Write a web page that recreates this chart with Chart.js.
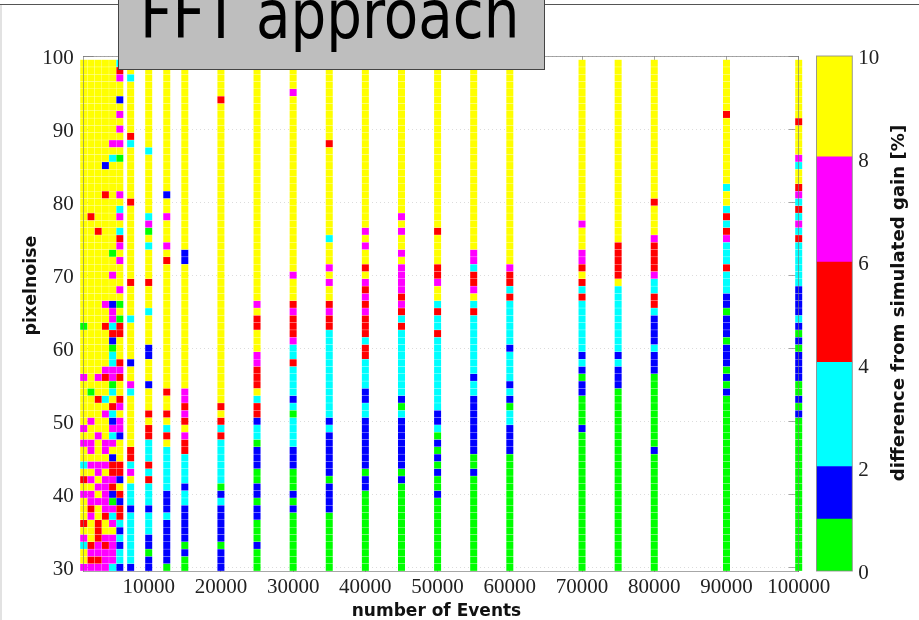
<!DOCTYPE html>
<html>
<head>
<meta charset="utf-8">
<script src="https://cdn.jsdelivr.net/npm/chart.js@4"></script>
<style>
html,body{margin:0;padding:0;background:#fff;width:919px;height:620px;overflow:hidden}
canvas{position:absolute;left:0;top:0}
#rule{position:absolute;left:0;top:4px;width:919px;height:1.4px;background:#555}
#edge{position:absolute;left:0;top:5px;width:1.5px;height:615px;background:#e2e2e2}
#titleBox{position:absolute;left:118px;top:-20px;width:425px;height:87.5px;background:#bebebe;border:1px solid #444;border-right-width:1.5px;border-bottom-width:1.5px;overflow:hidden}
#titleText{position:absolute;left:21px;top:1px;font:62.6px/70px "DejaVu Sans Condensed","DejaVu Sans",sans-serif;font-stretch:condensed;color:#000;white-space:nowrap;transform-origin:0 56.7px;transform:scaleY(1.07)}
</style>
</head>
<body>
<div id="rule"></div><div id="edge"></div>
<canvas id="heat" width="919" height="620"></canvas>
<canvas id="bar" width="919" height="620"></canvas>
<div id="titleBox"><span id="titleText">FFT approach</span></div>
<script>
// colour classes of difference from simulated gain [%]
const G=0.5,B=1.5,C=3,R=5,M=7,Y=9;
const titleLabel="FFT approach";
const xLabel="number of Events";
const yLabel="pixelnoise";
const barLabel="difference from simulated gain [%]";
const xTicks=[10000,20000,30000,40000,50000,60000,70000,80000,90000,100000];
const yTicks=[30,40,50,60,70,80,90,100];
const barTicks=[0,2,4,6,8,10];
const barEdges=[0,1.01,2.03,4.05,6,8.04,10];
const barColors=["#00ff00","#0000ff","#00ffff","#ff0000","#ff00ff","#ffff00"];
const firstNoise=30;
const events=[1000,2000,3000,4000,5000,6000,7500,10000,12500,15000,20000,25000,30000,35000,40000,45000,50000,55000,60000,70000,75000,80000,90000,100000];
// each list runs upward from pixelnoise 30 to 99, ten rows per line
const gain1000=[M,Y,Y,C,M,Y,R,Y,Y,Y,
M,Y,R,Y,C,Y,Y,M,Y,M,
Y,Y,Y,Y,Y,Y,M,Y,Y,Y,
Y,Y,Y,G,Y,Y,Y,Y,Y,Y,
Y,Y,Y,Y,Y,Y,Y,Y,Y,Y,
Y,Y,Y,Y,Y,Y,Y,Y,Y,Y,
Y,Y,Y,Y,Y,Y,Y,Y,Y,Y];
const gain2000=[M,R,M,R,Y,Y,Y,M,R,M,
M,Y,M,Y,M,Y,M,M,Y,Y,
M,Y,Y,Y,G,Y,Y,Y,Y,Y,
Y,Y,Y,Y,Y,Y,Y,Y,Y,Y,
Y,Y,Y,Y,Y,Y,Y,Y,R,Y,
Y,Y,Y,Y,Y,Y,Y,Y,Y,Y,
Y,Y,Y,Y,Y,Y,Y,Y,Y,Y];
const gain3000=[M,R,M,M,R,R,R,Y,Y,M,
Y,M,Y,M,M,Y,Y,Y,M,Y,
Y,Y,Y,R,Y,Y,M,Y,Y,Y,
Y,Y,Y,Y,Y,Y,Y,Y,Y,Y,
Y,Y,Y,Y,Y,Y,R,Y,Y,Y,
Y,Y,Y,Y,Y,Y,Y,Y,Y,Y,
Y,Y,Y,Y,Y,Y,Y,Y,Y,Y];
const gain4000=[M,M,M,R,M,Y,Y,R,M,M,
M,M,M,Y,M,Y,M,M,Y,Y,
Y,M,Y,C,Y,Y,R,M,Y,Y,
Y,Y,Y,R,Y,Y,M,Y,Y,Y,
Y,Y,Y,Y,Y,Y,Y,Y,Y,Y,
Y,R,Y,Y,Y,B,Y,Y,Y,Y,
Y,Y,Y,Y,Y,Y,Y,Y,Y,Y];
const gain5000=[C,M,M,M,M,Y,M,C,M,G,
B,R,M,R,R,B,Y,M,C,M,
B,C,R,Y,C,G,M,M,C,C,
G,B,R,C,M,M,B,Y,Y,Y,
M,Y,Y,G,Y,Y,Y,Y,Y,Y,
Y,Y,Y,Y,Y,Y,C,Y,M,Y,
Y,Y,Y,Y,Y,Y,Y,Y,Y,Y];
const gain6000=[B,C,C,B,C,B,C,R,R,B,
R,Y,B,R,R,Y,Y,Y,B,M,
M,Y,M,R,Y,Y,R,M,R,Y,
Y,Y,R,R,G,Y,G,Y,M,Y,
Y,Y,M,Y,M,R,C,Y,M,C,
Y,M,Y,Y,Y,Y,G,Y,M,Y,
M,Y,M,Y,B,Y,Y,M,R,C];
const gain7500=[B,C,C,C,C,C,C,C,B,C,
C,C,Y,M,C,R,R,Y,Y,Y,
Y,Y,Y,Y,C,M,Y,Y,B,Y,
Y,Y,Y,Y,C,Y,Y,Y,Y,R,
Y,Y,Y,Y,Y,Y,Y,Y,Y,Y,
R,Y,Y,Y,Y,Y,Y,Y,C,R,
Y,Y,Y,Y,Y,Y,Y,C,Y,Y];
const gain10000=[B,B,G,B,B,C,C,C,B,C,
C,C,R,C,R,C,C,C,R,R,
Y,R,Y,Y,Y,B,Y,Y,Y,B,
B,Y,Y,Y,Y,C,Y,Y,Y,R,
Y,Y,Y,Y,C,Y,G,M,C,Y,
Y,Y,Y,Y,Y,Y,Y,C,Y,Y,
Y,Y,Y,Y,Y,Y,Y,Y,Y,Y];
const gain12500=[G,B,B,B,B,B,B,C,B,B,
B,C,C,C,C,C,C,Y,R,C,
Y,R,Y,Y,R,Y,Y,Y,Y,Y,
Y,Y,Y,Y,Y,Y,Y,Y,Y,Y,
Y,Y,R,Y,M,Y,Y,Y,M,Y,
Y,B,Y,Y,Y,Y,Y,Y,Y,Y,
Y,Y,Y,Y,Y,Y,Y,Y,Y,Y];
const gain15000=[G,G,B,G,B,B,B,B,B,C,
C,B,C,C,C,C,R,R,M,Y,
R,M,R,M,M,Y,Y,Y,Y,Y,
Y,Y,Y,Y,Y,Y,Y,Y,Y,Y,
Y,Y,B,B,Y,Y,Y,Y,Y,Y,
Y,Y,Y,Y,Y,Y,Y,Y,Y,Y,
Y,Y,Y,Y,Y,Y,Y,Y,Y,Y];
const gain20000=[B,B,B,G,B,B,B,B,B,C,
B,G,C,C,C,C,C,C,R,C,
R,Y,R,Y,Y,Y,Y,Y,Y,Y,
Y,Y,Y,Y,Y,Y,Y,Y,Y,Y,
Y,Y,Y,Y,Y,Y,Y,Y,Y,Y,
Y,Y,Y,Y,Y,Y,Y,Y,Y,Y,
Y,Y,Y,Y,R,Y,Y,Y,Y,Y];
const gain25000=[G,G,G,B,G,G,G,B,B,G,
B,B,G,G,B,B,B,G,C,C,
B,R,R,C,Y,R,R,R,M,M,
Y,Y,Y,R,R,Y,M,Y,Y,Y,
Y,Y,Y,Y,Y,Y,Y,Y,Y,Y,
Y,Y,Y,Y,Y,Y,Y,Y,Y,Y,
Y,Y,Y,Y,Y,Y,Y,Y,Y,Y];
const gain30000=[G,G,G,G,G,G,G,G,B,G,
B,G,G,G,B,B,B,C,C,C,
C,G,C,B,C,C,C,C,R,C,
C,M,R,R,R,M,R,Y,Y,Y,
M,Y,Y,Y,Y,Y,Y,Y,Y,Y,
Y,Y,Y,Y,Y,Y,Y,Y,Y,Y,
Y,Y,Y,Y,Y,M,Y,Y,Y,Y];
const gain35000=[G,G,G,G,G,G,G,G,B,B,
B,B,G,B,B,B,B,B,B,C,
B,C,C,C,C,C,C,C,C,C,
C,C,C,R,R,M,R,Y,Y,M,
Y,M,Y,Y,Y,C,Y,Y,Y,Y,
Y,Y,Y,Y,Y,Y,Y,Y,R,Y,
Y,Y,Y,Y,Y,Y,Y,Y,Y,Y];
const gain40000=[G,G,G,G,G,G,G,G,G,G,
G,B,B,G,B,B,B,B,B,B,
B,C,C,B,B,C,C,C,C,R,
R,C,R,R,R,M,R,M,R,M,
Y,R,Y,Y,M,Y,M,Y,Y,Y,
Y,Y,Y,Y,Y,Y,Y,Y,Y,Y,
Y,Y,Y,Y,Y,Y,Y,Y,Y,Y];
const gain45000=[G,G,G,G,G,G,G,G,G,G,
G,G,B,G,B,B,B,B,B,B,
B,C,G,B,C,C,C,C,C,C,
C,C,C,R,C,R,M,R,M,M,
M,M,Y,M,Y,Y,M,Y,M,Y,
Y,Y,Y,Y,Y,Y,Y,Y,Y,Y,
Y,Y,Y,Y,Y,Y,Y,Y,Y,Y];
const gain50000=[G,G,G,G,G,G,G,G,G,G,
B,G,G,B,G,B,G,B,G,C,
B,B,C,C,C,C,C,C,C,C,
C,C,R,C,C,R,C,Y,Y,M,
R,R,Y,Y,Y,Y,R,Y,Y,Y,
Y,Y,Y,Y,Y,Y,Y,Y,Y,Y,
Y,Y,Y,Y,Y,Y,Y,Y,Y,Y];
const gain55000=[G,G,G,G,G,G,G,G,G,G,
G,G,G,B,G,G,B,B,B,B,
B,B,B,B,C,C,B,C,C,C,
C,C,C,C,C,R,C,Y,M,R,
R,C,M,M,Y,Y,Y,Y,Y,Y,
Y,Y,Y,Y,Y,Y,Y,Y,Y,Y,
Y,Y,Y,Y,Y,Y,Y,Y,Y,Y];
const gain60000=[G,G,G,G,G,G,G,G,G,G,
G,G,G,G,G,G,B,B,B,B,
C,C,G,B,C,B,C,C,C,C,
B,C,C,C,C,C,C,R,C,R,
R,M,Y,Y,Y,Y,Y,Y,Y,Y,
Y,Y,Y,Y,Y,Y,Y,Y,Y,Y,
Y,Y,Y,Y,Y,Y,Y,Y,Y,Y];
const gain70000=[G,G,G,G,G,G,G,G,G,G,
G,G,G,G,G,G,G,G,G,B,
G,G,G,G,B,B,G,B,C,B,
C,C,C,C,C,C,C,R,C,R,
Y,R,M,M,Y,Y,Y,M,Y,Y,
Y,Y,Y,Y,Y,Y,Y,Y,Y,Y,
Y,Y,Y,Y,Y,Y,Y,Y,Y,Y];
const gain75000=[G,G,G,G,G,G,G,G,G,G,
G,G,G,G,G,G,G,G,G,G,
G,G,G,G,G,B,B,B,C,B,
C,C,C,C,C,C,C,C,C,Y,
R,R,R,R,R,Y,Y,Y,Y,Y,
Y,Y,Y,Y,Y,Y,Y,Y,Y,Y,
Y,Y,Y,Y,Y,Y,Y,Y,Y,Y];
const gain80000=[G,G,G,G,G,G,G,G,G,G,
G,G,G,G,G,G,B,G,G,G,
G,G,G,G,G,G,G,B,B,B,
C,B,B,B,B,C,R,R,C,C,
M,R,R,R,R,M,Y,Y,Y,Y,
R,Y,Y,Y,Y,Y,Y,Y,Y,Y,
Y,Y,Y,Y,Y,Y,Y,Y,Y,Y];
const gain90000=[G,G,G,G,G,G,G,G,G,G,
G,G,G,G,G,G,G,G,G,G,
G,G,G,G,B,G,B,G,B,B,
B,G,B,B,B,G,B,B,C,C,
C,R,C,C,C,M,R,C,R,C,
Y,Y,C,Y,Y,Y,Y,Y,Y,Y,
Y,Y,R,Y,Y,Y,Y,Y,Y,Y];
const gain100000=[G,G,G,G,G,G,G,G,G,G,
G,G,G,G,G,G,G,G,G,G,
G,B,G,B,G,G,B,B,B,B,
G,B,G,B,C,B,B,B,B,C,
C,C,C,C,C,R,C,M,C,R,
C,M,R,Y,Y,C,M,Y,Y,Y,
Y,R,Y,Y,Y,Y,Y,Y,Y,Y];
const columns=[gain1000,gain2000,gain3000,gain4000,gain5000,gain6000,gain7500,gain10000,gain12500,gain15000,gain20000,gain25000,gain30000,gain35000,gain40000,gain45000,gain50000,gain55000,gain60000,gain70000,gain75000,gain80000,gain90000,gain100000];

function colorOf(v){
  for(let i=0;i<barColors.length;i++){ if(v<barEdges[i+1]) return barColors[i]; }
  return barColors[barColors.length-1];
}
const tickFont={family:'"Liberation Serif",serif',size:21};
const axisGray="rgba(120,120,120,0.65)";
const fixedTicks=list=>scale=>{scale.ticks=list.map(v=>({value:v}));};

const axisText={id:"axisText",afterDraw(chart){
  const c=chart.ctx;
  c.save();
  c.fillStyle="#111";
  c.font='bold 17px "DejaVu Sans",sans-serif';
  c.textAlign="center";c.textBaseline="middle";
  c.fillText(xLabel,436.5,611.5);
  c.save();c.translate(31,285.5);c.rotate(-Math.PI/2);c.font='bold 17.4px "DejaVu Sans",sans-serif';c.fillText(yLabel,0,0);c.restore();
  c.translate(899,303);c.rotate(-Math.PI/2);c.font='bold 18.1px "DejaVu Sans",sans-serif';c.fillText(barLabel,0,0);
  c.restore();
}};

new Chart(document.getElementById("heat"),{
  type:"scatter",
  data:{datasets:columns.map((col,i)=>({
    label:String(events[i]),
    data:col.map((v,r)=>({x:events[i],y:firstNoise+r})),
    pointStyle:"rect",
    pointRadius:4.95,
    pointHoverRadius:4.95,
    pointBorderWidth:0,
    pointBackgroundColor:col.map(colorOf),
    showLine:false,
    clip:false
  }))},
  options:{
    responsive:false,animation:false,
    layout:{padding:{left:0,top:56,right:120.3,bottom:0}},
    plugins:{legend:{display:false},tooltip:{enabled:false},title:{display:false}},
    scales:{
      x:{type:"linear",position:"bottom",min:1000,max:100000,
        afterBuildTicks:fixedTicks(xTicks),
        afterFit(s){s.height=49;},
        border:{color:axisGray,z:1},
        grid:{drawOnChartArea:false,tickLength:-5,tickColor:axisGray},
        ticks:{font:tickFont,color:"#222",padding:9,autoSkip:false,maxRotation:0,callback:v=>String(v)}},
      x2:{type:"linear",position:"top",min:1000,max:100000,
        afterBuildTicks:fixedTicks(xTicks),
        afterFit(s){s.height=0;},
        border:{color:axisGray,z:1},
        grid:{drawOnChartArea:false,tickLength:-5,tickColor:axisGray},
        ticks:{display:false}},
      y:{type:"linear",position:"left",min:29.5,max:100,
        afterBuildTicks:fixedTicks(yTicks),
        afterFit(s){s.width=83.7;},
        border:{color:axisGray,z:1,dash:[1,3]},
        grid:{color:"#dcdcdc",lineWidth:1,tickLength:-10,tickColor:axisGray,tickBorderDash:[]},
        ticks:{font:tickFont,color:"#222",padding:20,labelOffset:2,autoSkip:false,callback:v=>String(v)}},
      y2:{type:"linear",position:"right",min:29.5,max:100,
        afterBuildTicks:fixedTicks(yTicks),
        afterFit(s){s.width=0;},
        border:{color:axisGray,z:1},
        grid:{drawOnChartArea:false,tickLength:-10,tickColor:axisGray},
        ticks:{display:false}}
    }
  },
  plugins:[axisText]
});

const barBox={id:"barBox",afterDraw(chart){
  const a=chart.chartArea,c=chart.ctx;
  c.save();c.strokeStyle="rgba(130,130,130,0.8)";c.lineWidth=1;
  c.strokeRect(a.left,a.top,a.right-a.left,a.bottom-a.top);c.restore();
}};
new Chart(document.getElementById("bar"),{
  type:"bar",
  data:{labels:["gain"],datasets:barColors.map((col,i)=>({
    data:[[barEdges[i],barEdges[i+1]]],
    backgroundColor:col,borderWidth:0,
    barPercentage:1,categoryPercentage:1,grouped:false
  }))},
  options:{
    responsive:false,animation:false,
    layout:{padding:{left:816.5,top:56,right:0,bottom:49}},
    plugins:{legend:{display:false},tooltip:{enabled:false},title:{display:false}},
    scales:{
      x:{display:false},
      y:{position:"right",min:0,max:10,
        afterBuildTicks:fixedTicks(barTicks),
        afterFit(s){s.width=66.7;},
        border:{display:false},
        grid:{display:false,drawTicks:false},
        ticks:{font:tickFont,color:"#222",padding:6,labelOffset:2,autoSkip:false,callback:v=>String(v)}}
    }
  },
  plugins:[barBox]
});
</script>
</body>
</html>
